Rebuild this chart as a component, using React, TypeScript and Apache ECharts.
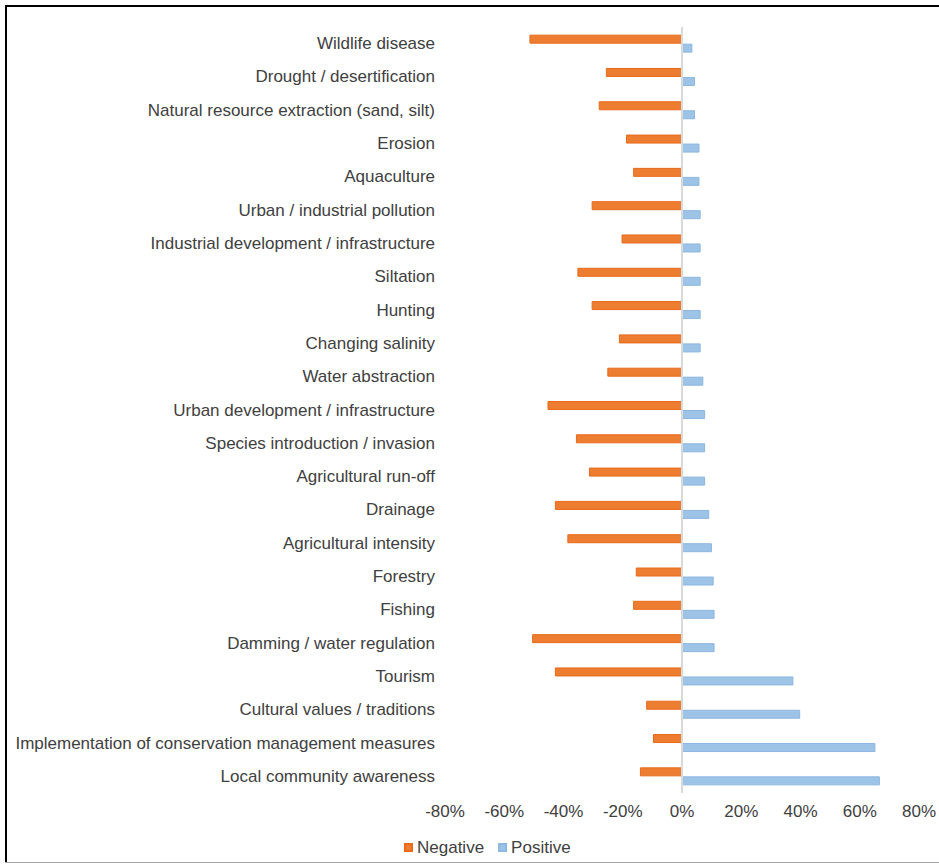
import React, { useEffect, useRef } from "react";
import * as echarts from "echarts";

const categories = [
  "Wildlife disease",
  "Drought / desertification",
  "Natural resource extraction (sand, silt)",
  "Erosion",
  "Aquaculture",
  "Urban / industrial pollution",
  "Industrial development / infrastructure",
  "Siltation",
  "Hunting",
  "Changing salinity",
  "Water abstraction",
  "Urban development / infrastructure",
  "Species introduction / invasion",
  "Agricultural run-off",
  "Drainage",
  "Agricultural intensity",
  "Forestry",
  "Fishing",
  "Damming / water regulation",
  "Tourism",
  "Cultural values / traditions",
  "Implementation of conservation management measures",
  "Local community awareness",
];

const negativeValues = [
  -51.5, -25.7, -28.1, -18.9, -16.5, -30.5, -20.4, -35.3, -30.5, -21.3, -25.2,
  -45.4, -35.8, -31.4, -42.9, -38.7, -15.6, -16.5, -50.6, -42.9, -12.1, -9.8, -14.2,
];

const positiveValues = [
  3.5, 4.4, 4.4, 5.9, 5.9, 6.3, 6.3, 6.3, 6.3, 6.3, 7.2, 7.8, 7.8, 7.8, 9.2, 10.1,
  10.7, 11, 11, 37.6, 39.9, 65.3, 66.8,
];

const xTicks = { min: -80, max: 80, interval: 20 };

const FONT = "'Liberation Sans', Arial, sans-serif";
const TEXT = "#404040";

export default function App() {
  const ref = useRef<HTMLDivElement>(null);
  useEffect(() => {
    if (!ref.current) return;
    const chart = echarts.init(ref.current, null, { renderer: "svg" });
    chart.setOption({
      animation: false,
      backgroundColor: "#ffffff",
      textStyle: { fontFamily: FONT },
      grid: { left: 445, right: 20, top: 27, bottom: 72, containLabel: false },
      legend: {
        data: ["Negative", "Positive"],
        left: 399,
        top: 834,
        itemWidth: 7,
        itemHeight: 7,
        itemGap: 14,
        icon: "rect",
        textStyle: { color: TEXT, fontSize: 17, fontFamily: FONT },
      },
      xAxis: {
        type: "value",
        min: xTicks.min,
        max: xTicks.max,
        interval: xTicks.interval,
        axisLine: { show: false },
        axisTick: { show: false },
        splitLine: { show: false },
        axisLabel: {
          formatter: "{value}%",
          color: TEXT,
          fontSize: 17,
          fontFamily: FONT,
          margin: 10,
        },
      },
      yAxis: {
        type: "category",
        data: categories,
        inverse: true,
        axisLine: { show: false, onZero: false },
        axisTick: { show: false },
        splitLine: { show: false },
        axisLabel: { color: TEXT, fontSize: 17, fontFamily: FONT, margin: 10 },
      },
      series: [
        {
          name: "Negative",
          type: "bar",
          data: negativeValues,
          barWidth: 9,
          barGap: "0%",
          itemStyle: { color: "#ED7D31", borderColor: "#E86A1A", borderWidth: 1 },
          markLine: {
            silent: true,
            symbol: "none",
            label: { show: false },
            lineStyle: { color: "#D9D9D9", width: 2, type: "solid" },
            data: [{ xAxis: 0 }],
          },
        },
        {
          name: "Positive",
          type: "bar",
          data: positiveValues,
          barWidth: 9,
          barGap: "0%",
          itemStyle: { color: "#9DC3E6", borderColor: "#8DB6E0", borderWidth: 1 },
        },
      ],
      graphic: [
        { type: "line", shape: { x1: 6, y1: 6, x2: 939, y2: 6 }, style: { stroke: "#000", lineWidth: 2 } },
        { type: "line", shape: { x1: 6, y1: 5, x2: 6, y2: 863 }, style: { stroke: "#000", lineWidth: 2 } },
        { type: "line", shape: { x1: 5, y1: 862.5, x2: 939, y2: 862.5 }, style: { stroke: "#A6A6A6", lineWidth: 1 } },
      ],
    });
    return () => chart.dispose();
  }, []);
  return (
    <div
      ref={ref}
      style={{ position: "absolute", left: 0, top: 0, width: 939, height: 865 }}
    />
  );
}
